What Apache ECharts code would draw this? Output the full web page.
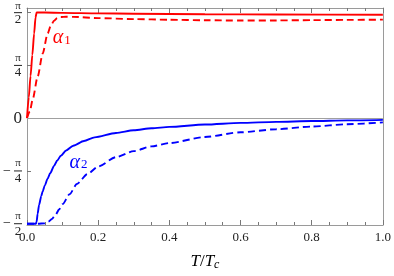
<!DOCTYPE html>
<html><head><meta charset="utf-8">
<script src="https://cdn.jsdelivr.net/npm/echarts@6/dist/echarts.min.js"></script>
<style>html,body{margin:0;padding:0;background:#fff}#c{width:394px;height:276px}</style>
</head><body><div id="c"></div>
<script>
const PI = Math.PI;
// alpha1, solid
const a1SolidT = [0, 0.005, 0.01, 0.015, 0.02, 0.024, 0.027, 0.05, 0.1, 0.2, 0.3, 0.5, 0.7, 1.0];
const a1SolidY = [0, 0.31, 0.63, 0.94, 1.26, 1.50, 1.572, 1.572, 1.568, 1.56, 1.555, 1.547, 1.543, 1.54];
// alpha1, dashed
const a1DashT = [0, 0.008, 0.016, 0.03, 0.044, 0.058, 0.067, 0.076, 0.085, 0.095, 0.11, 0.13, 0.2, 0.3, 0.4, 0.5, 0.6, 0.7, 0.8, 0.9, 1.0];
const a1DashY = [0, 0.10, 0.28, 0.62, 0.96, 1.26, 1.38, 1.45, 1.49, 1.505, 1.51, 1.508, 1.49, 1.475, 1.465, 1.458, 1.453, 1.455, 1.459, 1.463, 1.467];
// alpha2, solid
const a2SolidT = [0, 0.025, 0.027, 0.03, 0.034, 0.04, 0.044, 0.05, 0.058, 0.065, 0.076, 0.085, 0.095, 0.11, 0.13, 0.16, 0.19, 0.25, 0.3, 0.35, 0.4, 0.5, 0.6, 0.7, 0.8, 0.9, 1.0];
const a2SolidY = [-1.571, -1.571, -1.54, -1.42, -1.29, -1.16, -1.09, -1.0, -0.90, -0.82, -0.71, -0.63, -0.56, -0.48, -0.41, -0.34, -0.285, -0.22, -0.18, -0.15, -0.13, -0.095, -0.07, -0.055, -0.043, -0.033, -0.025];
// alpha2, dashed
const a2DashT = [0, 0.03, 0.05, 0.06, 0.07, 0.08, 0.09, 0.1, 0.12, 0.14, 0.17, 0.2, 0.25, 0.3, 0.35, 0.4, 0.5, 0.6, 0.7, 0.8, 0.9, 1.0];
const a2DashY = [-1.571, -1.571, -1.565, -1.54, -1.50, -1.44, -1.36, -1.28, -1.13, -0.98, -0.83, -0.72, -0.58, -0.49, -0.42, -0.37, -0.28, -0.21, -0.165, -0.125, -0.09, -0.063];

const yTickValues = [-PI/2, -PI/4, 0, PI/4, PI/2];
const yTickSign = ['−', '−', '', '', ''];
const yTickNum = ['π', 'π', '0', 'π', 'π'];
const yTickDen = ['2', '4', '', '4', '2'];

const curveLabels = ['α', 'α'];
const curveSubs = ['1', '2'];
const labelPos = [[0.0975, 1.19], [0.145, -0.66]];

const RED = '#ff0000', BLUE = '#0000ff';
const FONT = 'Liberation Serif';
const zip = (a, b) => a.map((v, i) => [v, b[i]]);

function yLabel(v) {
  const i = yTickValues.findIndex(t => Math.abs(t - v) < 1e-6);
  if (i < 0) return '';
  if (yTickDen[i] === '') return '{z|' + yTickNum[i] + '}';
  if (yTickSign[i]) {
    return '{sp|}{n|' + yTickNum[i] + '}\n{m|' + yTickSign[i] + '}{bar|}\n{sp|}{d|' + yTickDen[i] + '}';
  }
  return '{n|' + yTickNum[i] + '}\n{bar|}\n{d|' + yTickDen[i] + '}';
}

const frame = '#9a9a9a', tickC = '#777';
const yMin = -1.59, yMax = 1.64;

const chart = echarts.init(document.getElementById('c'), null, {renderer: 'canvas'});
function curve(name, t, y, color, dashed, lbl) {
  const s = {
    name, type: 'line', data: zip(t, y), showSymbol: false, smooth: 0.25, smoothMonotone: 'x',
    lineStyle: {color, width: 1.9, type: dashed ? [7, 4] : 'solid'},
    animation: false, z: 3
  };
  if (lbl !== undefined) {
    s.markPoint = {
      symbol: 'circle', symbolSize: 0, silent: true, animation: false,
      data: [{coord: labelPos[lbl], value: 0}],
      label: {
        show: true, position: 'inside', color,
        formatter: '{a|' + curveLabels[lbl] + '}{s|' + curveSubs[lbl] + '}',
        rich: {
          a: {fontFamily: FONT, fontStyle: 'italic', fontSize: 20, color, lineHeight: 17},
          s: {fontFamily: FONT, fontSize: 13, color, lineHeight: 6, verticalAlign: 'bottom', padding: [0, 0, 0, 1]}
        }
      }
    };
  }
  return s;
}

const option = {
  animation: false,
  backgroundColor: '#fff',
  grid: {left: 26, right: 9, top: 8, bottom: 49, containLabel: false},
  xAxis: [{
    type: 'value', min: 0, max: 1, interval: 0.2, position: 'bottom',
    axisLine: {show: true, onZero: false, lineStyle: {color: frame, width: 1}},
    axisTick: {show: true, inside: true, length: 5, lineStyle: {color: tickC}},
    minorTick: {show: true, splitNumber: 4, length: 3, lineStyle: {color: tickC}},
    splitLine: {show: false},
    axisLabel: {fontFamily: FONT, fontSize: 13, color: '#222', margin: 6, formatter: v => v.toFixed(1)},
    name: '{i|T}{r|/}{i|T}{s|c}', nameLocation: 'middle', nameGap: 28,
    nameTextStyle: {
      rich: {
        i: {fontFamily: FONT, fontStyle: 'italic', fontSize: 17, color: '#000', lineHeight: 18},
        r: {fontFamily: FONT, fontSize: 17, color: '#000', lineHeight: 18},
        s: {fontFamily: FONT, fontStyle: 'italic', fontSize: 12, color: '#000', lineHeight: 6, verticalAlign: 'bottom'}
      }
    }
  }, {
    type: 'value', min: 0, max: 1, interval: 0.2, position: 'top',
    axisLine: {show: true, onZero: false, lineStyle: {color: frame, width: 1}},
    axisTick: {show: true, inside: true, length: 5, lineStyle: {color: tickC}},
    minorTick: {show: true, splitNumber: 4, length: 3, lineStyle: {color: tickC}},
    splitLine: {show: false}, axisLabel: {show: false}
  }],
  yAxis: [{
    type: 'value', min: yMin, max: yMax, position: 'left',
    axisLine: {show: true, onZero: false, lineStyle: {color: frame, width: 1}},
    axisTick: {show: true, inside: true, length: 4, customValues: yTickValues, lineStyle: {color: tickC}},
    splitLine: {show: false},
    axisLabel: {
      customValues: yTickValues, margin: 5, formatter: yLabel, color: '#222',
      rich: {
        n: {fontFamily: FONT, fontSize: 11, width: 8, align: 'center', lineHeight: 11, color: '#222'},
        bar: {width: 8, height: 1, backgroundColor: '#222', lineHeight: 3},
        d: {fontFamily: FONT, fontSize: 13, width: 8, align: 'center', lineHeight: 11, color: '#222'},
        m: {fontFamily: FONT, fontSize: 14, width: 11, align: 'left', lineHeight: 3, color: '#222'},
        sp: {width: 11},
        z: {fontFamily: FONT, fontSize: 17, color: '#222'}
      }
    }
  }, {
    type: 'value', min: yMin, max: yMax, position: 'right',
    axisLine: {show: true, onZero: false, lineStyle: {color: frame, width: 1}},
    axisTick: {show: false}, axisLabel: {show: false}, splitLine: {show: false}
  }],
  series: [
    Object.assign(curve('a1s', a1SolidT, a1SolidY, RED, false), {
      markLine: {
        silent: true, symbol: ['none', 'none'], animation: false, label: {show: false},
        lineStyle: {color: '#a0a0a0', width: 1, type: 'solid'},
        data: [{yAxis: 0}]
      }
    }),
    curve('a1d', a1DashT, a1DashY, RED, true, 0),
    curve('a2s', a2SolidT, a2SolidY, BLUE, false),
    curve('a2d', a2DashT, a2DashY, BLUE, true, 1)
  ]
};
chart.setOption(option);
</script></body></html>
